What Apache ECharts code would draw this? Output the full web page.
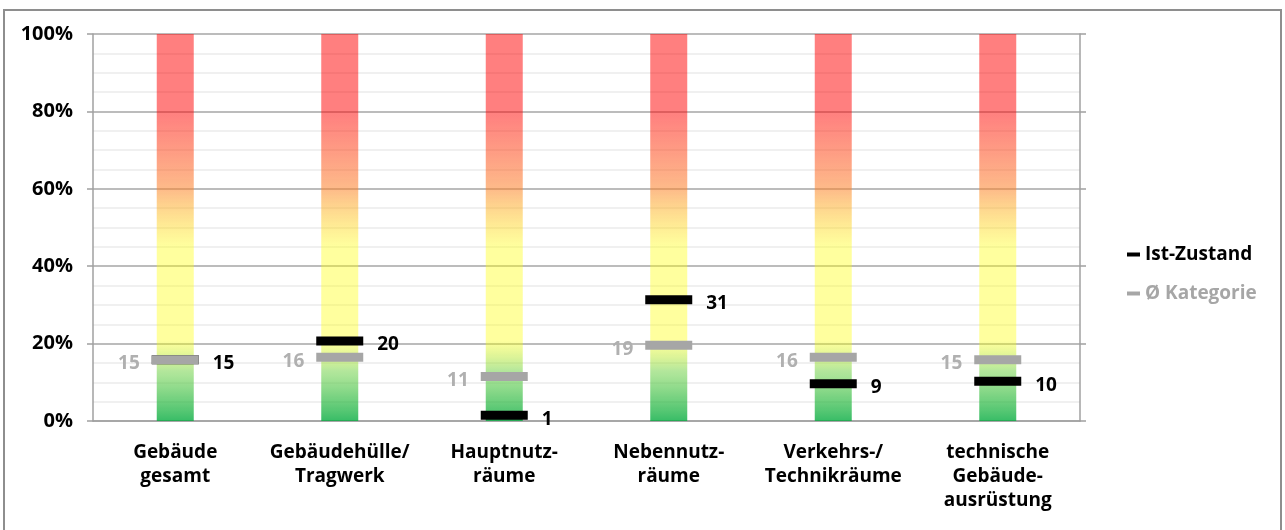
<!DOCTYPE html>
<html>
<head>
<meta charset="utf-8">
<script src="https://cdn.jsdelivr.net/npm/echarts@6/dist/echarts.min.js"></script>
<style>
    html, body { margin: 0; padding: 0; background: #fff; }
    #chart { width: 1285px; height: 530px; }
</style>
</head>
<body>
<div id="chart"></div>
<script>
var categories = ['Gebäude\ngesamt', 'Gebäudehülle/\nTragwerk', 'Hauptnutz-\nräume', 'Nebennutz-\nräume', 'Verkehrs-/\nTechnikräume', 'technische\nGebäude-\nausrüstung'];
var scaleTop = [100, 100, 100, 100, 100, 100];
var istZustand = [15.8, 20.7, 1.5, 31.3, 9.6, 10.3];
var kategorie = [15.8, 16.5, 11.5, 19.6, 16.5, 15.8];
var yTicks = [0, 20, 40, 60, 80, 100];

var FONT = '"Open Sans", "Noto Sans", sans-serif';

var chart = echarts.init(document.getElementById('chart'));

var barGradient = new echarts.graphic.LinearGradient(0, 0, 0, 1, [
    { offset: 0, color: 'rgba(255,0,0,0.5)' },
    { offset: 0.2, color: 'rgba(255,0,0,0.5)' },
    { offset: 0.4, color: 'rgba(252,130,40,0.55)' },
    { offset: 0.55, color: 'rgba(255,255,0,0.38)' },
    { offset: 0.79, color: 'rgba(255,255,0,0.38)' },
    { offset: 0.87, color: 'rgba(130,215,90,0.6)' },
    { offset: 1, color: 'rgba(0,170,60,0.78)' }
]);

var option = {
    animation: false,
    graphic: [{
        type: 'rect',
        shape: { x: 4, y: 10, width: 1277, height: 530 },
        style: { fill: 'none', stroke: '#8e8e8e', lineWidth: 2 },
        silent: true
    }],
    grid: {
        left: 93,
        right: 205,
        top: 34,
        bottom: 109
    },
    legend: {
        orient: 'vertical',
        left: 1122,
        top: 240,
        itemGap: 20,
        itemWidth: 13,
        itemHeight: 4,
        selectedMode: false,
        textStyle: { fontFamily: FONT, fontSize: 19, fontWeight: 'bold' },
        data: [
            { name: 'Ist-Zustand', icon: 'rect', textStyle: { color: '#000' } },
            { name: 'Ø Kategorie', icon: 'rect', textStyle: { color: '#a6a6a6' } }
        ]
    },
    xAxis: {
        type: 'category',
        data: categories,
        axisLine: { lineStyle: { color: '#a0a0a0', width: 1.5 } },
        axisTick: { length: 6, lineStyle: { color: '#a0a0a0', width: 1.5 } },
        axisLabel: {
            margin: 20,
            interval: 0,
            color: '#000',
            fontFamily: FONT,
            fontSize: 19,
            fontWeight: 'bold',
            lineHeight: 24
        }
    },
    yAxis: [{
        type: 'value',
        min: yTicks[0],
        max: yTicks[yTicks.length - 1],
        interval: 20,
        axisLine: { show: true, lineStyle: { color: '#a0a0a0', width: 1.5 } },
        axisTick: { show: true, length: 6, lineStyle: { color: '#a0a0a0', width: 1.5 } },
        axisLabel: {
            margin: 20,
            color: '#000',
            fontFamily: FONT,
            fontSize: 20,
            fontWeight: 'bold',
            formatter: '{value}%'
        },
        splitLine: { lineStyle: { color: '#a6a6a6', width: 1.5 } },
        minorTick: { show: false, splitNumber: 4 },
        minorSplitLine: { show: true, lineStyle: { color: '#ececec', width: 1.5 } }
    }, {
        type: 'value',
        position: 'right',
        min: yTicks[0],
        max: yTicks[yTicks.length - 1],
        interval: 20,
        axisLine: { show: true, lineStyle: { color: '#a0a0a0', width: 1.5 } },
        axisTick: { show: true, length: 6, lineStyle: { color: '#a0a0a0', width: 1.5 } },
        axisLabel: { show: false },
        splitLine: { show: false }
    }],
    series: [
        {
            name: 'Skala',
            type: 'bar',
            barWidth: 37,
            silent: true,
            itemStyle: { color: barGradient },
            data: scaleTop
        },
        {
            name: 'Ist-Zustand',
            type: 'scatter',
            symbol: 'rect',
            symbolSize: [47, 9],
            z: 3,
            itemStyle: { color: '#000', opacity: 1 },
            label: {
                show: true,
                position: 'right',
                distance: 14,
                offset: [0, 4],
                color: '#000',
                fontFamily: FONT,
                fontSize: 19,
                fontWeight: 'bold',
                formatter: function (p) { return Math.floor(p.value); }
            },
            data: istZustand
        },
        {
            name: 'Ø Kategorie',
            type: 'scatter',
            symbol: 'rect',
            symbolSize: [47, 9],
            z: 4,
            itemStyle: { color: '#a6a6a6', opacity: 1 },
            label: {
                show: true,
                position: 'left',
                distance: 12,
                offset: [0, 4],
                color: '#b0b0b0',
                fontFamily: FONT,
                fontSize: 19,
                fontWeight: 'bold',
                formatter: function (p) { return Math.floor(p.value); }
            },
            data: kategorie
        }
    ]
};

chart.setOption(option);

window.onresize = function () {
    chart.resize();
};
</script>
</body>
</html>
